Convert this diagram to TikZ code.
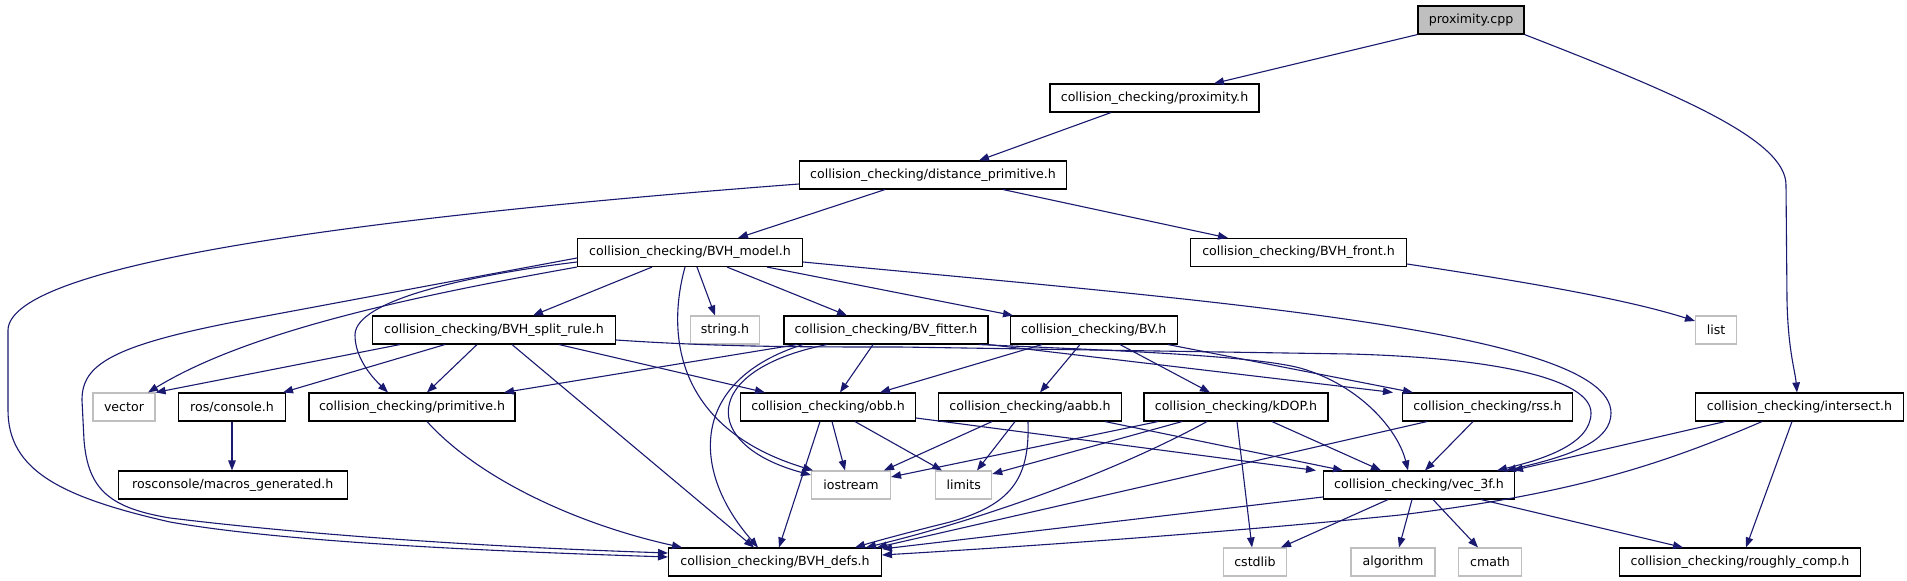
\documentclass[tikz,border=0pt]{standalone}
\usepackage{fontspec}
\setmainfont{DejaVu Sans}
\usetikzlibrary{arrows.meta}
\definecolor{edgeblue}{RGB}{25,25,112}
\definecolor{sysgray}{RGB}{191,191,191}
\begin{document}
\begin{tikzpicture}[x=1pt,y=-1pt,
  box/.style={draw=black, line width=1.1pt, rectangle, minimum height=28pt, inner sep=0pt, font=\fontsize{12.6}{15}\selectfont, fill=white},
  sysbox/.style={box, draw=sysgray},
  rootbox/.style={box, fill=sysgray},
  edge/.style={draw=edgeblue, line width=1.1pt, -{Triangle[length=10pt,width=7.5pt]}},
]
\fill[white] (0,0) rectangle (1907,581);
\useasboundingbox (0,0) rectangle (1907,581);

% nodes
\node[rootbox, minimum width=106pt] (cpp) at (1471,20) {proximity.cpp};
\node[box, minimum width=209pt] (proxh) at (1154.5,98) {collision\_checking/proximity.h};
\node[box, minimum width=267pt] (distp) at (933,175) {collision\_checking/distance\_primitive.h};
\node[box, minimum width=225pt] (bvhmodel) at (690,252.5) {collision\_checking/BVH\_model.h};
\node[box, minimum width=216pt] (bvhfront) at (1298.5,252.5) {collision\_checking/BVH\_front.h};
\node[box, minimum width=243pt] (split) at (494,330) {collision\_checking/BVH\_split\_rule.h};
\node[sysbox, minimum width=69pt] (strh) at (725,330) {string.h};
\node[box, minimum width=204pt] (fitter) at (886,330) {collision\_checking/BV\_fitter.h};
\node[box, minimum width=167pt] (bvh) at (1093.7,330) {collision\_checking/BV.h};
\node[sysbox, minimum width=41pt] (listh) at (1716,330) {list};
\node[sysbox, minimum width=62pt] (vector) at (124,407) {vector};
\node[box, minimum width=107pt] (console) at (232,407) {ros/console.h};
\node[box, minimum width=206pt] (prim) at (412,407) {collision\_checking/primitive.h};
\node[box, minimum width=175pt] (obb) at (828,407) {collision\_checking/obb.h};
\node[box, minimum width=183pt] (aabb) at (1030,407) {collision\_checking/aabb.h};
\node[box, minimum width=184pt] (kdop) at (1236,407) {collision\_checking/kDOP.h};
\node[box, minimum width=170pt] (rss) at (1487.5,407) {collision\_checking/rss.h};
\node[box, minimum width=208pt] (inter) at (1799.5,407) {collision\_checking/intersect.h};
\node[box, minimum width=229pt] (macros) at (232.7,485) {rosconsole/macros\_generated.h};
\node[sysbox, minimum width=79pt] (iostream) at (851,485) {iostream};
\node[sysbox, minimum width=56pt] (limits) at (963.7,485) {limits};
\node[box, minimum width=191pt] (vec) at (1419,485) {collision\_checking/vec\_3f.h};
\node[box, minimum width=213pt] (defs) at (775,562) {collision\_checking/BVH\_defs.h};
\node[sysbox, minimum width=63pt] (cstdlib) at (1255,562) {cstdlib};
\node[sysbox, minimum width=84pt] (algo) at (1393,562) {algorithm};
\node[sysbox, minimum width=63pt] (cmath) at (1490,562) {cmath};
\node[box, minimum width=241pt] (rough) at (1740,562) {collision\_checking/roughly\_comp.h};

% proximity.cpp
\draw[edge] (cpp.south west) -- (1214,0 |- proxh.north);
\draw[edge] (cpp.south east) .. controls (1680,95) and (1786,140) .. (1786,185) -- (1787,300) .. controls (1788,350) and (1795,370) .. (1797,0 |- inter.north);
% proximity.h
\draw[edge] (1111,0 |- proxh.south) -- (979,0 |- distp.north);
% distance_primitive.h
\draw[edge] (885,0 |- distp.south) -- (738,0 |- bvhmodel.north);
\draw[edge] (1003,0 |- distp.south) -- (1228,0 |- bvhfront.north);
\draw[edge] (distp.west |- 0,184) .. controls (300,222) and (10,270) .. (8,330) -- (8,410) .. controls (8,470) and (60,497) .. (170,522) .. controls (300,545) and (550,553) .. (defs.west |- 0,557);
% BVH_front.h
\draw[edge] (bvhfront.east |- 0,264) .. controls (1500,278) and (1620,297) .. (listh.west |- 0,321);
% BVH_model.h
\draw[edge] (bvhmodel.west |- 0,258) -- (250,319) .. controls (110,345) and (82,365) .. (82,400) -- (84,440) .. controls (88,490) and (110,508) .. (170,518) .. controls (350,540) and (550,549) .. (defs.west |- 0,553);
\draw[edge] (bvhmodel.west |- 0,262) .. controls (470,275) and (355,300) .. (355,335) .. controls (355,360) and (375,380) .. (388,0 |- prim.north);
\draw[edge] (bvhmodel.south west) .. controls (420,295) and (250,330) .. (148,0 |- vector.north);
\draw[edge] (652,0 |- bvhmodel.south) -- (533,0 |- split.north);
\draw[edge] (685,0 |- bvhmodel.south) .. controls (665,340) and (680,430) .. (813,0 |- iostream.north);
\draw[edge] (697,0 |- bvhmodel.south) -- (715,0 |- strh.north);
\draw[edge] (727,0 |- bvhmodel.south) -- (847,0 |- fitter.north);
\draw[edge] (767,0 |- bvhmodel.south) -- (1013,0 |- bvh.north);
\draw[edge] (bvhmodel.east |- 0,262) .. controls (1200,300) and (1611,330) .. (1611,413) .. controls (1611,440) and (1575,455) .. (1506,0 |- vec.north);
% BVH_split_rule.h
\draw[edge] (400,0 |- split.south) -- (vector.north east);
\draw[edge] (445,0 |- split.south) -- (283,0 |- console.north);
\draw[edge] (477,0 |- split.south) -- (427,0 |- prim.north);
\draw[edge] (512,0 |- split.south) -- (754,0 |- defs.north);
\draw[edge] (559,0 |- split.south) -- (765,0 |- obb.north);
\draw[edge] (split.east |- 0,340) .. controls (720,347) and (800,347) .. (900,347) -- (1350,354) .. controls (1500,358) and (1591,380) .. (1591,413) .. controls (1591,445) and (1540,460) .. (1497,0 |- vec.north);
% BV_fitter.h
\draw[edge] (797,0 |- fitter.south) -- (504,0 |- prim.north);
\draw[edge] (827,0 |- fitter.south) .. controls (700,370) and (700,445) .. (iostream.west |- 0,475);
\draw[edge] (803,0 |- fitter.south) .. controls (690,380) and (690,470) .. (758,0 |- defs.north);
\draw[edge] (873,0 |- fitter.south) -- (840,0 |- obb.north);
\draw[edge] (fitter.south east) -- (1393,0 |- rss.north);
\draw[edge] (979,0 |- fitter.south) .. controls (1100,350) and (1250,355) .. (1300,368) .. controls (1360,385) and (1398,430) .. (1408,0 |- vec.north);
% BV.h
\draw[edge] (1042,0 |- bvh.south) -- (880,0 |- obb.north);
\draw[edge] (1080,0 |- bvh.south) -- (1040,0 |- aabb.north);
\draw[edge] (1120,0 |- bvh.south) -- (1210,0 |- kdop.north);
\draw[edge] (1168,0 |- bvh.south) -- (1413,0 |- rss.north);
% ros/console.h
\draw[edge] (console.south) -- (console.south |- macros.north);
% primitive.h
\draw[edge] (427,0 |- prim.south) .. controls (480,480) and (580,525) .. (682,0 |- defs.north);
% obb.h
\draw[edge] (820,0 |- obb.south) -- (779,0 |- defs.north);
\draw[edge] (832,0 |- obb.south) -- (845,0 |- iostream.north);
\draw[edge] (855,0 |- obb.south) -- (942,0 |- limits.north);
\draw[edge] (obb.east |- 0,418) -- (1316,0 |- vec.north);
% aabb.h
\draw[edge] (992,0 |- aabb.south) -- (884,0 |- iostream.north);
\draw[edge] (1015,0 |- aabb.south) -- (977,0 |- limits.north);
\draw[edge] (1028,0 |- aabb.south) .. controls (1030,480) and (1010,505) .. (950,522) .. controls (910,532) and (880,540) .. (855,0 |- defs.north);
\draw[edge] (1105,0 |- aabb.south) -- (1343,0 |- vec.north);
% kDOP.h
\draw[edge] (1158,0 |- kdop.south) -- (iostream.east |- 0,477);
\draw[edge] (1182,0 |- kdop.south) -- (limits.east |- 0,474);
\draw[edge] (1207,0 |- kdop.south) .. controls (1100,480) and (960,525) .. (866,0 |- defs.north);
\draw[edge] (1237,0 |- kdop.south) -- (1252,0 |- cstdlib.north);
\draw[edge] (1272,0 |- kdop.south) -- (1381,0 |- vec.north);
% rss.h
\draw[edge] (1427,0 |- rss.south) -- (877,0 |- defs.north);
\draw[edge] (1473,0 |- rss.south) -- (1425,0 |- vec.north);
% vec_3f.h
\draw[edge] (vec.west |- 0,497) -- (defs.east |- 0,549);
\draw[edge] (1388,0 |- vec.south) -- (1281,0 |- cstdlib.north);
\draw[edge] (1412,0 |- vec.south) -- (1399,0 |- algo.north);
\draw[edge] (1433,0 |- vec.south) -- (1478,0 |- cmath.north);
\draw[edge] (1481,0 |- vec.south) -- (1683,0 |- rough.north);
% intersect.h
\draw[edge] (1725,0 |- inter.south) -- (1513,0 |- vec.north);
\draw[edge] (1762,0 |- inter.south) .. controls (1650,470) and (1560,495) .. (1400,515) .. controls (1200,535) and (1000,548) .. (defs.east |- 0,555);
\draw[edge] (1792,0 |- inter.south) -- (1746,0 |- rough.north);
\end{tikzpicture}
\end{document}
